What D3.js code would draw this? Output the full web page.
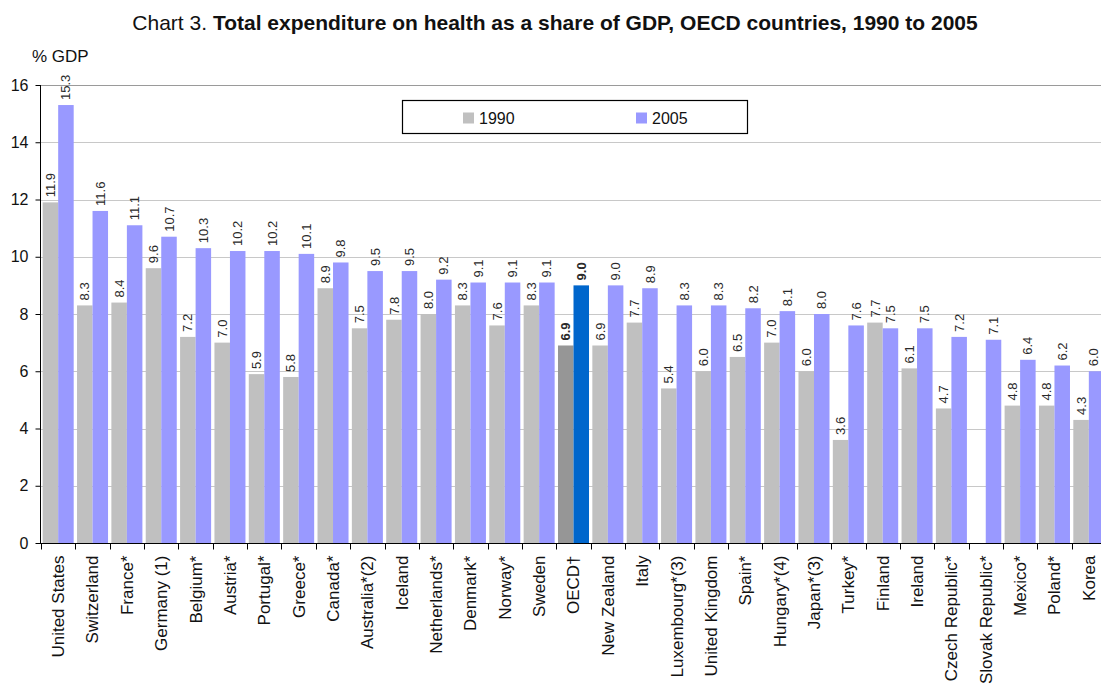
<!DOCTYPE html>
<html>
<head>
<meta charset="utf-8">
<script src="https://cdn.jsdelivr.net/npm/d3@7"></script>
<style>
  html, body { margin: 0; padding: 0; background: #fff; }
  svg { display: block; font-family: "Liberation Sans", Arial, sans-serif; }
</style>
</head>
<body>
<svg id="chart" width="1101" height="684"></svg>
<script>
// Health expenditure, % of GDP
const countries = ["United States", "Switzerland", "France*", "Germany (1)", "Belgium*", "Austria*",
  "Portugal*", "Greece*", "Canada*", "Australia*(2)", "Iceland", "Netherlands*", "Denmark*", "Norway*",
  "Sweden", "OECD\u2020", "New Zealand", "Italy", "Luxembourg*(3)", "United Kingdom", "Spain*",
  "Hungary*(4)", "Japan*(3)", "Turkey*", "Finland", "Ireland", "Czech Republic*", "Slovak Republic*",
  "Mexico*", "Poland*", "Korea"];
const values1990 = [11.9, 8.3, 8.4, 9.6, 7.2, 7.0, 5.9, 5.8, 8.9, 7.5, 7.8, 8.0, 8.3, 7.6, 8.3, 6.9,
  6.9, 7.7, 5.4, 6.0, 6.5, 7.0, 6.0, 3.6, 7.7, 6.1, 4.7, null, 4.8, 4.8, 4.3];
const values2005 = [15.3, 11.6, 11.1, 10.7, 10.3, 10.2, 10.2, 10.1, 9.8, 9.5, 9.5, 9.2, 9.1, 9.1, 9.1, 9.0,
  9.0, 8.9, 8.3, 8.3, 8.2, 8.1, 8.0, 7.6, 7.5, 7.5, 7.2, 7.1, 6.4, 6.2, 6.0];
const seriesNames = ["1990", "2005"];
const yTicks = [0, 2, 4, 6, 8, 10, 12, 14, 16];
const averageName = "OECD\u2020";

const colors = { "1990": "#c0c0c0", "2005": "#9999ff" };
const averageColors = { "1990": "#969696", "2005": "#0066cc" };

const width = 1101;
const svg = d3.select("#chart");
const plotLeft = 41, plotRight = 1106, plotTop = 85, plotBottom = 543;

const x = d3.scaleBand().domain(countries).range([plotLeft, plotRight]).paddingInner(0.097).paddingOuter(0.0485);
const xs = d3.scaleBand().domain(seriesNames).range([0, x.bandwidth()]);
const y = d3.scaleLinear().domain([0, 16]).range([plotBottom, plotTop]);

// Gridlines
svg.append("g").selectAll("line").data(yTicks.filter(t => t > 0)).join("line")
  .attr("x1", 40).attr("x2", width)
  .attr("y1", d => Math.round(y(d)) + 0.5).attr("y2", d => Math.round(y(d)) + 0.5)
  .attr("stroke", d => d === 16 ? "#9a9a9a" : "#c8c8c8").attr("stroke-width", 1);

// Bars
const rows = countries.map((c, i) => ({ country: c, vals: [values1990[i], values2005[i]] }));
const groups = svg.append("g").selectAll("g").data(rows).join("g")
  .attr("transform", d => `translate(${x(d.country)},0)`);

const cells = groups.selectAll("g.cell")
  .data(d => seriesNames.map((s, k) => ({ country: d.country, series: s, value: d.vals[k] })).filter(e => e.value != null))
  .join("g").attr("class", "cell");

cells.append("rect")
  .attr("x", d => xs(d.series))
  .attr("width", xs.bandwidth())
  .attr("y", d => y(d.value))
  .attr("height", d => y(0) - y(d.value))
  .attr("fill", d => d.country === averageName ? averageColors[d.series] : colors[d.series]);

// Value labels (kept inside the drawing's right edge)
cells.append("text")
  .attr("transform", d => {
    const cx = Math.min(xs(d.series) + xs.bandwidth() / 2, width - 8 - x(d.country));
    return `translate(${cx},${y(d.value) - 5}) rotate(-90)`;
  })
  .attr("dy", "0.35em")
  .attr("text-anchor", "start")
  .attr("font-size", 13)
  .attr("font-weight", d => d.country === averageName ? "bold" : "normal")
  .attr("fill", "#2a2a2a")
  .text(d => d.value.toFixed(1));

// Y axis
const yAxis = svg.append("g").attr("transform", "translate(40.5,0)")
  .call(d3.axisLeft(y).tickValues(yTicks).tickSize(5).tickPadding(7).tickFormat(d3.format("d")));
yAxis.select(".domain").attr("stroke", "#000").attr("d", `M0,${plotTop}V${plotBottom}`);
yAxis.selectAll(".tick line").attr("stroke", "#000");
yAxis.selectAll(".tick text").attr("font-size", 16).attr("fill", "#111").attr("font-family", "Liberation Sans, Arial, sans-serif");

// X axis
const xAxis = svg.append("g").attr("transform", `translate(0,${plotBottom + 0.5})`);
xAxis.append("line").attr("x1", 40).attr("x2", width).attr("stroke", "#000");
const step = x.step();
const boundaries = countries.map((c, i) => x(c) - x.paddingInner() * step / 2);
xAxis.selectAll("line.tick").data(boundaries).join("line").attr("class", "tick")
  .attr("x1", d => Math.round(d) + 0.5).attr("x2", d => Math.round(d) + 0.5)
  .attr("y1", 0).attr("y2", 6).attr("stroke", "#000");
xAxis.selectAll("text").data(countries).join("text")
  .attr("transform", d => `translate(${x(d) + x.bandwidth() / 2},${12}) rotate(-90)`)
  .attr("dy", "0.35em")
  .attr("text-anchor", "end")
  .attr("font-size", 17)
  .attr("fill", "#111")
  .text(d => d);

// Axis unit
svg.append("text").attr("x", 32).attr("y", 62).attr("font-size", 17).attr("fill", "#111").text("% GDP");

// Title
const title = svg.append("text").attr("x", 555).attr("y", 30).attr("text-anchor", "middle")
  .attr("font-size", 21).attr("fill", "#111");
title.append("tspan").text("Chart 3. ");
title.append("tspan").attr("font-weight", "bold")
  .text("Total expenditure on health as a share of GDP, OECD countries, 1990 to 2005");

// Legend
const legend = svg.append("g");
legend.append("rect").attr("x", 402.5).attr("y", 100.5).attr("width", 345).attr("height", 33)
  .attr("fill", "#fff").attr("stroke", "#000").attr("stroke-width", 1.2);
const legendPos = [463, 636];
seriesNames.forEach((s, i) => {
  legend.append("rect").attr("x", legendPos[i]).attr("y", 112.5).attr("width", 11).attr("height", 11).attr("fill", colors[s]);
  legend.append("text").attr("x", legendPos[i] + 16).attr("y", 123.5).attr("font-size", 16).attr("fill", "#111").text(s);
});
</script>
</body>
</html>
